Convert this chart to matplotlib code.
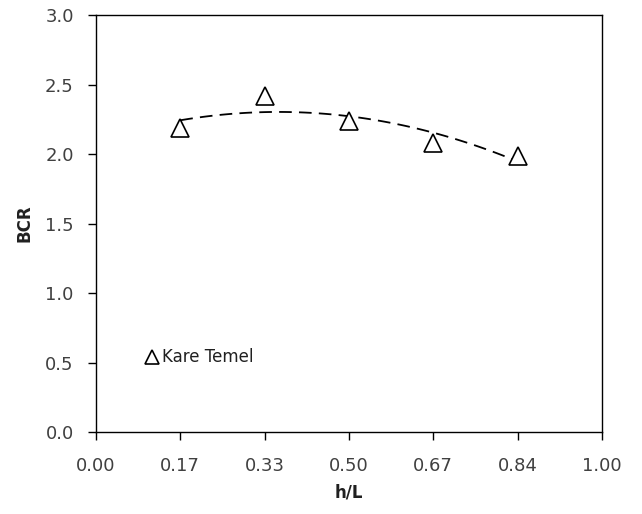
# BCR vs h/L for square footing (Kare Temel)
import numpy as np
import matplotlib
matplotlib.use('Agg')
import matplotlib.pyplot as plt

hL = [1/6, 2/6, 3/6, 4/6, 5/6]          # h/L positions
bcr = [2.19, 2.42, 2.24, 2.08, 1.99]    # BCR values
xtick_pos = [0, 1/6, 2/6, 3/6, 4/6, 5/6, 1.0]
xtick_lab = ['0.00', '0.17', '0.33', '0.50', '0.67', '0.84', '1.00']
ytick_pos = [0.0, 0.5, 1.0, 1.5, 2.0, 2.5, 3.0]

txtc = '#404040'

fig = plt.figure(figsize=(6.42, 5.14), dpi=100)
ax = fig.add_axes([0.1495, 0.1595, 0.788, 0.811])

# 2nd order polynomial trendline
coef = np.polyfit(hL, bcr, 2)
xs = np.linspace(hL[0], hL[-1], 100)
ax.plot(xs, np.polyval(coef, xs), color='black', lw=1.3, ls=(0, (7, 4)))

ax.plot(hL, bcr, ls='none', marker='^', ms=13, mfc='white', mec='black', mew=1.2)

# legend-like label inside the plot
ax.plot([0.11], [0.54], ls='none', marker='^', ms=10, mfc='white', mec='black', mew=1.2)
ax.text(0.13, 0.54, 'Kare Temel', va='center', ha='left', fontsize=12, color='#202020')

ax.set_xlim(0, 1)
ax.set_ylim(0, 3)
ax.set_xticks(xtick_pos)
ax.set_xticklabels(xtick_lab)
ax.set_yticks(ytick_pos)
ax.set_yticklabels(['%.1f' % v for v in ytick_pos])
ax.tick_params(direction='out', length=6, width=1, labelsize=13, colors='black',
               labelcolor=txtc)
ax.tick_params(axis='y', pad=10)
ax.tick_params(axis='x', pad=12)
ax.set_xlabel('h/L', fontsize=12, fontweight='bold', labelpad=6, color='#202020')
ax.set_ylabel('BCR', fontsize=12, fontweight='bold', labelpad=8, color='#202020')
for s in ax.spines.values():
    s.set_linewidth(1)
    s.set_color('black')

fig.savefig('out.png', dpi=100)
